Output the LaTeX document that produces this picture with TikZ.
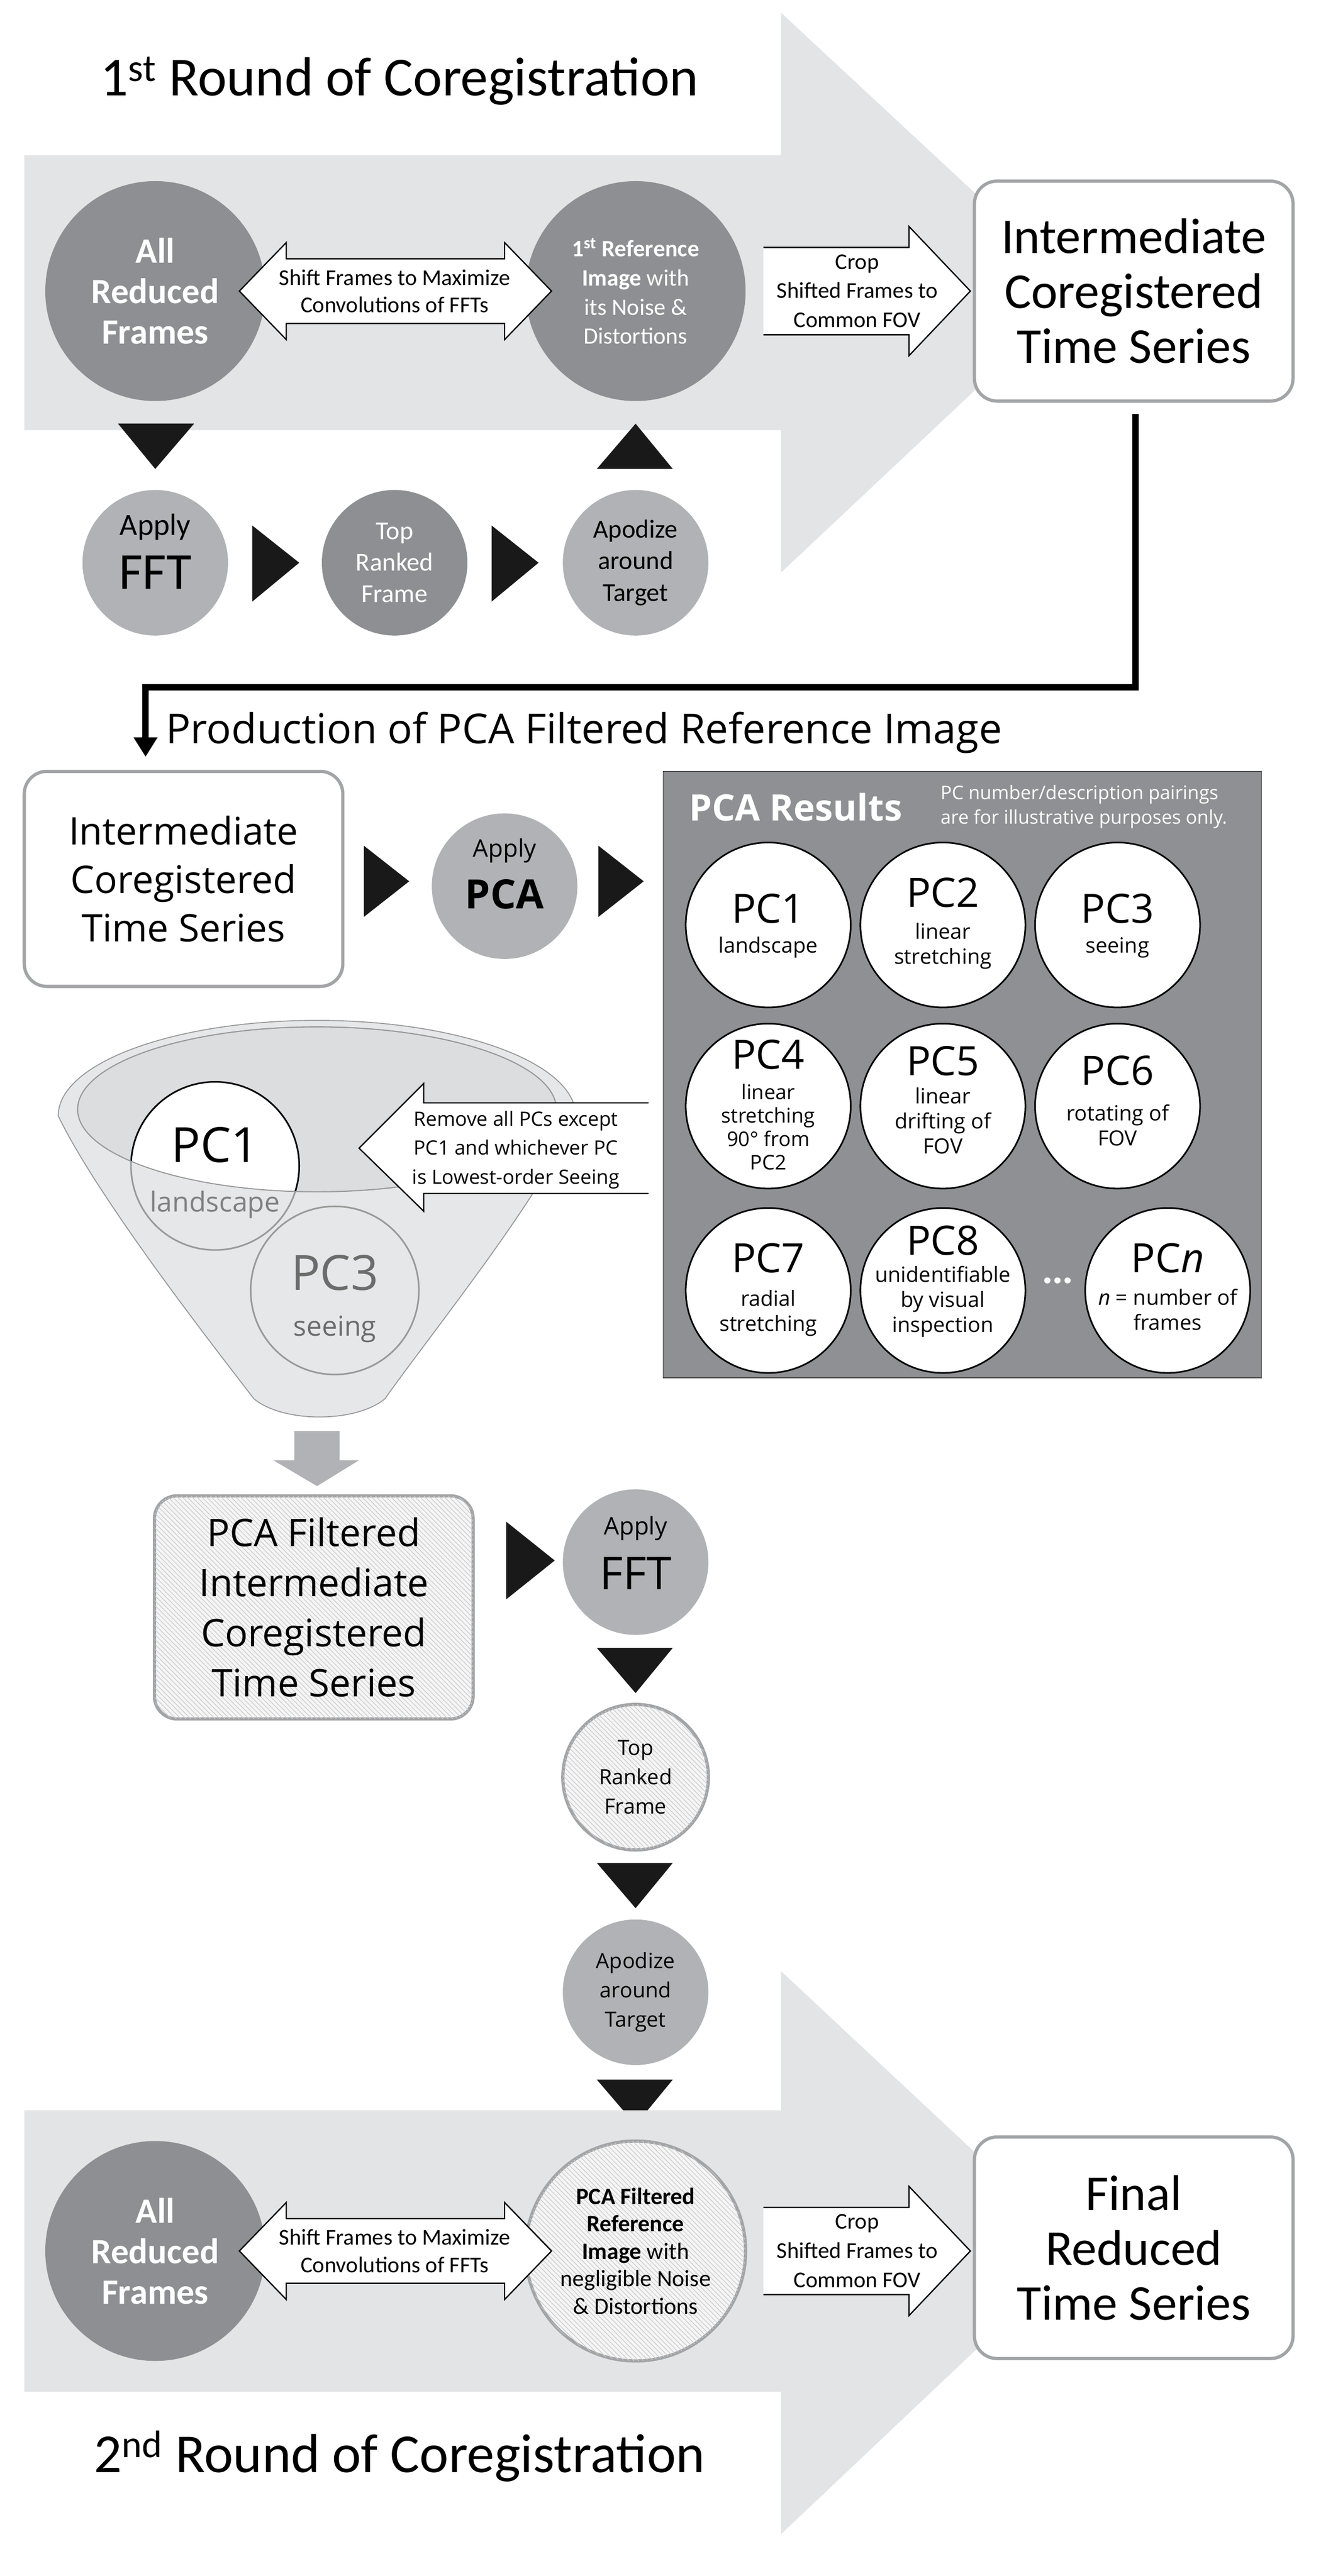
\documentclass[tikz,border=0pt]{standalone}
\usepackage{fontspec}
\setmainfont{Carlito}
\newfontfamily\os{Open Sans}
\newfontfamily\cl{Carlito}
\usetikzlibrary{arrows.meta,patterns,shapes.geometric}
\definecolor{bigarrow}{HTML}{E3E4E5}
\definecolor{dk}{HTML}{8E8F92}
\definecolor{lt}{HTML}{B1B2B5}
\definecolor{bord}{HTML}{A3A4A6}
\definecolor{funnel}{HTML}{E6E7E8}
\definecolor{pcabox}{HTML}{8F9093}
\tikzset{
  x=1pt,y=-1pt,
  circ/.style={circle,minimum size=#1,inner sep=0pt,align=center},
  dkc/.style={circ=136pt,fill=dk,text=white,font=\cl\fontsize{22}{25}\selectfont\bfseries},
  ltc/.style={circ=90pt,fill=lt},
  rbox/.style={draw=bord,line width=2pt,rounded corners=14pt,fill=white,align=center},
  tri/.style={fill=black!90},
  pc/.style={circ=102pt,draw=black,line width=1pt,fill=white},
  hatch/.style={fill=gray!8,postaction={pattern=north west lines,pattern color=gray!40}},
  wa/.style={draw=black,line width=0.8pt,fill=white},
}
\begin{document}
\begin{tikzpicture}
\useasboundingbox (0,0) rectangle (827,1593);
\fill[white] (0,0) rectangle (827,1593);
% ===== top big arrow
\fill[bigarrow] (15,96) -- (483,96) -- (483,8) -- (668,180) -- (483,354) -- (483,266) -- (15,266) -- cycle;
\node (t1) at (247,50) {\fontsize{34}{36}\selectfont 1\textsuperscript{st} Round of Coregistration};
\node[dkc] (arf1) at (96,180) {All\\Reduced\\Frames};
\node[dkc,font=\cl\fontsize{14.5}{18}\selectfont] (ref1) at (393,180) {\textbf{1\textsuperscript{st} Reference}\\\textbf{Image} with\\its Noise \&\\Distortions};
\draw[wa] (148,180) -- (177,150) -- (177,160) -- (312,160) -- (312,150) -- (341,180) -- (312,210) -- (312,200) -- (177,200) -- (177,210) -- cycle;
\node[font=\cl\fontsize{14}{17}\selectfont,align=center] (sh1) at (244,180) {Shift Frames to Maximize\\Convolutions of FFTs};
\fill[white] (472,153) -- (562,153) -- (562,140) -- (600,180) -- (562,220) -- (562,207) -- (472,207) -- cycle;
\draw[line width=0.8pt] (472,153) -- (562,153) -- (562,140) -- (600,180) -- (562,220) -- (562,207) -- (472,207);
\node[font=\cl\fontsize{14}{18}\selectfont,align=center] (cr1) at (530,180) {Crop\\Shifted Frames to\\Common FOV};
\node[rbox,minimum width=197pt,minimum height=136pt,font=\cl\fontsize{31}{34}\selectfont] (ict1) at (701,180) {Intermediate\\Coregistered\\Time Series};
\fill[tri] (73,262) -- (120,262) -- (96,290) -- cycle;
\fill[tri] (369,290) -- (416,290) -- (393,262) -- cycle;
\node[ltc] (fft1) at (96,348) {};
\node[font=\cl\fontsize{19}{20}\selectfont] (fft1a) at (96,326) {Apply};
\node[font=\cl\fontsize{32}{32}\selectfont] (fft1b) at (96,354) {FFT};
\node[circ=90pt,fill=dk,text=white,font=\cl\fontsize{16}{19.5}\selectfont] (trf1) at (244,348) {Top\\Ranked\\Frame};
\node[ltc,font=\cl\fontsize{16}{19.5}\selectfont] (apo1) at (393,348) {Apodize\\around\\Target};
\fill[tri] (156,325) -- (185,348) -- (156,372) -- cycle;
\fill[tri] (304,325) -- (333,348) -- (304,372) -- cycle;
% ===== connector
\coordinate (c1) at (702,425);
\coordinate (c2) at (90,425);
\coordinate (c3) at (90,468);
\draw[line width=4pt,-{Triangle[length=12pt,width=14pt]}] (ict1.south -| c1) ++(0,7) -- (c1) -- (c2) -- (c3);
\node[anchor=west,font=\os\fontsize{25.5}{28}\selectfont] (prod) at (99,453) {Production of PCA Filtered Reference Image};
% ===== middle
\node[rbox,minimum width=197pt,minimum height=133pt,font=\os\fontsize{23.5}{30}\selectfont] (ict2) at (113.5,543.5) {Intermediate\\Coregistered\\Time Series};
\fill[tri] (225,523) -- (253,545) -- (225,567) -- cycle;
\node[ltc] (pca) at (312,548) {};
\node[font=\os\fontsize{15}{17}\selectfont] (pcaa) at (312,526) {Apply};
\node[font=\os\fontsize{25}{26}\selectfont\bfseries] (pcab) at (312,553) {PCA};
\fill[tri] (370,523) -- (398,545) -- (370,567) -- cycle;
\fill[pcabox] (410,477) rectangle (780,852);
\draw[black!70,line width=0.5pt] (410,477) rectangle (780,852);
\node[text=white,font=\os\fontsize{22.5}{24}\selectfont\bfseries] (pcar) at (492,499) {PCA Results};
\node[text=white,font=\os\fontsize{11.6}{15}\selectfont,align=left,anchor=west] (note) at (578,499) {PC number/description pairings\\are for illustrative purposes only.};
\tikzset{pct/.style={font=\os\fontsize{13}{15.5}\selectfont}, pcb/.style={font=\os\fontsize{25}{27}\selectfont}}
\node[pc] (p1) at (475,572) {}; \node[pcb] at (475,562) {PC1}; \node[pct] at (475,586) {landscape};
\node[pc] (p2) at (583,572) {}; \node[pcb] at (583,552) {PC2}; \node[pct,align=center] at (583,585) {linear\\stretching};
\node[pc] (p3) at (691,572) {}; \node[pcb] at (691,562) {PC3}; \node[pct] at (691,586) {seeing};
\node[pc] (p4) at (475,684) {}; \node[pcb] at (475,652) {PC4}; \node[pct,align=center,font=\os\fontsize{12.5}{14.5}\selectfont] at (475,697) {linear\\stretching\\90° from\\PC2};
\node[pc] (p5) at (583,684) {}; \node[pcb] at (583,656) {PC5}; \node[pct,align=center] at (583,693) {linear\\drifting of\\FOV};
\node[pc] (p6) at (691,684) {}; \node[pcb] at (691,662) {PC6}; \node[pct,align=center] at (691,696) {rotating of\\FOV};
\node[pc] (p7) at (475,798) {}; \node[pcb] at (475,778) {PC7}; \node[pct,align=center] at (475,812) {radial\\stretching};
\node[pc] (p8) at (583,798) {}; \node[pcb] at (583,767) {PC8}; \node[pct,align=center] at (583,805) {unidentifiable\\by visual\\inspection};
\node[text=white,font=\os\fontsize{22}{22}\selectfont\bfseries] (dots) at (654,792) {...};
\node[pc] (pn) at (722,798) {}; \node[pcb] at (722,778) {PC\textit{n}}; \node[pct,align=center] at (722,810) {\textit{n} = number of\\frames};
% ===== funnel
\fill[funnel,draw=gray!80,line width=0.6pt] (36,690) .. controls (60,740) and (130,830) .. (157,865) .. controls (175,880) and (220,880) .. (238,865) .. controls (270,820) and (335,740) .. (356,690) arc[start angle=0,end angle=-180,x radius=160,y radius=59];
\draw[gray!80,line width=0.6pt,fill=funnel!90!gray] (196,686) ellipse[x radius=148,y radius=51];
\begin{scope}
  \clip (196,686) ellipse[x radius=148,y radius=51];
  \fill[white] (133,721) circle[radius=52];
  \draw[black,line width=1pt] (133,721) circle[radius=52];
\end{scope}
\begin{scope}[even odd rule]
  \clip (0,600) rectangle (400,900) (196,686) ellipse[x radius=148,y radius=51];
  \draw[gray!80,line width=1pt] (133,721) circle[radius=52];
\end{scope}
\draw[gray!80,line width=0.6pt] (196,686) ellipse[x radius=148,y radius=51];
\node[font=\os\fontsize{30}{30}\selectfont] (f1) at (133,708) {PC1};
\node[font=\os\fontsize{17}{17}\selectfont,text=gray] (f1l) at (133,745) {landscape};
\node[circle,minimum size=104pt,draw=gray!80,line width=1pt,inner sep=0pt] (f3) at (207,798) {};
\node[font=\os\fontsize{30}{30}\selectfont,text=gray!85!black] (f3t) at (207,787) {PC3};
\node[font=\os\fontsize{17}{17}\selectfont,text=gray!85!black] (f3l) at (207,822) {seeing};
\fill[white] (401,682) -- (262,682) -- (262,670) -- (222,710) -- (262,749) -- (262,738) -- (401,738) -- cycle;
\draw[line width=0.8pt] (401,682) -- (262,682) -- (262,670) -- (222,710) -- (262,749) -- (262,738) -- (401,738);
\node[font=\os\fontsize{12.2}{18}\selectfont,align=center] (rm) at (319,711) {Remove all PCs except\\PC1 and whichever PC\\is Lowest-order Seeing};
\fill[lt] (182,885) -- (210,885) -- (210,903) -- (222,903) -- (196,919) -- (169,903) -- (182,903) -- cycle;
\node[rbox,hatch,minimum width=197pt,minimum height=138pt,font=\os\fontsize{23.5}{31}\selectfont] (pfi) at (194,994) {PCA Filtered\\Intermediate\\Coregistered\\Time Series};
\fill[tri] (313,941) -- (343,965) -- (313,989) -- cycle;
\node[ltc] (fft2) at (393,966) {};
\node[font=\os\fontsize{15}{17}\selectfont] (fft2a) at (393,945) {Apply};
\node[font=\os\fontsize{28}{28}\selectfont] (fft2b) at (393,973) {FFT};
\fill[tri] (369,1019) -- (416,1019) -- (393,1047) -- cycle;
\node[circ=90pt,hatch,draw=bord,line width=2pt,font=\os\fontsize{13}{18}\selectfont] (trf2) at (393,1099) {Top\\Ranked\\Frame};
\fill[tri] (369,1152) -- (416,1152) -- (393,1180) -- cycle;
\node[ltc,font=\os\fontsize{13}{18}\selectfont] (apo2) at (393,1232) {Apodize\\around\\Target};
\fill[tri] (369,1286) -- (416,1286) -- (393,1314) -- cycle;
% ===== bottom big arrow
\fill[bigarrow] (15,1305) -- (483,1305) -- (483,1219) -- (668,1392) -- (483,1567) -- (483,1479) -- (15,1479) -- cycle;
\node (t2) at (247,1519) {\fontsize{34}{36}\selectfont 2\textsuperscript{nd} Round of Coregistration};
\node[dkc] (arf2) at (96,1392) {All\\Reduced\\Frames};
\node[circ=136pt,hatch,draw=bord,line width=2pt,font=\cl\fontsize{14.5}{17}\selectfont] (ref2) at (393,1392) {\textbf{PCA Filtered}\\\textbf{Reference}\\\textbf{Image} with\\negligible Noise\\\& Distortions};
\draw[wa] (148,1392) -- (177,1362) -- (177,1372) -- (312,1372) -- (312,1362) -- (341,1392) -- (312,1422) -- (312,1412) -- (177,1412) -- (177,1422) -- cycle;
\node[font=\cl\fontsize{14}{17}\selectfont,align=center] (sh2) at (244,1392) {Shift Frames to Maximize\\Convolutions of FFTs};
\fill[white] (472,1365) -- (562,1365) -- (562,1352) -- (600,1392) -- (562,1432) -- (562,1419) -- (472,1419) -- cycle;
\draw[line width=0.8pt] (472,1365) -- (562,1365) -- (562,1352) -- (600,1392) -- (562,1432) -- (562,1419) -- (472,1419);
\node[font=\cl\fontsize{14}{18}\selectfont,align=center] (cr2) at (530,1392) {Crop\\Shifted Frames to\\Common FOV};
\node[rbox,minimum width=197pt,minimum height=137pt,font=\cl\fontsize{31}{34}\selectfont] (frt) at (701,1390) {Final\\Reduced\\Time Series};
\end{tikzpicture}
\end{document}
